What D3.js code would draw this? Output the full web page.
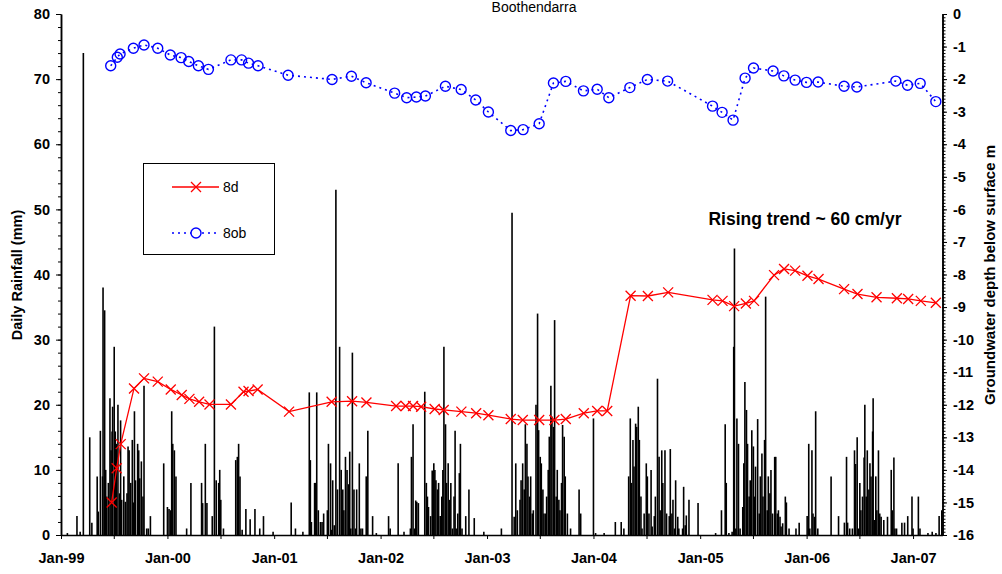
<!DOCTYPE html>
<html>
<head>
<meta charset="utf-8">
<title>Boothendarra</title>
<script src="https://cdn.jsdelivr.net/npm/d3@7"></script>
<style>
  body { margin: 0; background: #fff; }
  svg text { font-family: "Liberation Sans", Arial, sans-serif; fill: #000; }
</style>
</head>
<body>
<div id="chart"></div>
<script>
// daily rainfall: [decimal year, mm]
var rainfall = [
  [1999.06,0.3],[1999.15,2.9],[1999.18,0.5],[1999.21,74],[1999.27,15],[1999.29,1.9],[1999.34,9],[1999.35,3.6],[1999.37,16],[1999.39,9],
  [1999.395,38],[1999.41,34.5],[1999.42,10],[1999.43,5.9],[1999.445,8],[1999.46,21],[1999.47,13],[1999.48,15.9],[1999.485,19.7],[1999.50,28.9],
  [1999.51,15.9],[1999.52,14],[1999.535,20],[1999.55,6.4],[1999.56,17.6],[1999.57,5.4],[1999.59,9],[1999.605,5.1],[1999.62,6.4],[1999.63,13.6],
  [1999.64,13],[1999.655,8],[1999.67,14.6],[1999.68,5],[1999.69,19],[1999.70,8.4],[1999.72,14],[1999.73,13],[1999.74,8.7],[1999.755,11.3],
  [1999.77,5.9],[1999.78,22.9],[1999.805,1],[1999.82,1],[1999.84,2.9],[1999.965,11],
  [2000.00,4.3],[2000.015,4],[2000.03,3.8],[2000.04,19],[2000.05,14],[2000.065,13],[2000.08,9],[2000.18,1],[2000.22,8],[2000.32,8],
  [2000.33,4.9],[2000.355,14],[2000.37,4.9],[2000.42,2.9],[2000.44,32],[2000.457,8.4],[2000.48,8],[2000.49,10],[2000.50,5.4],[2000.525,1],
  [2000.64,11.5],[2000.655,12],[2000.667,14],[2000.68,9],[2000.70,0.8],[2000.735,4],[2000.775,2.4],[2000.82,4],[2000.865,1],[2000.90,2.9],[2000.99,0.5],
  [2001.16,5],[2001.20,1],[2001.27,0.5],[2001.33,21.9],[2001.34,11.5],[2001.35,2],[2001.38,8],[2001.39,8],[2001.40,21.9],[2001.415,3.8],
  [2001.435,2],[2001.45,2],[2001.465,3.3],[2001.50,3.8],[2001.51,14],[2001.53,11],[2001.54,0.8],[2001.55,8.4],[2001.565,1.5],[2001.58,53],
  [2001.595,7],[2001.615,28.9],[2001.63,10],[2001.645,7],[2001.655,3.8],[2001.67,12],[2001.685,10],[2001.70,7.8],[2001.71,12.8],[2001.72,1],
  [2001.735,28],[2001.75,7],[2001.765,1],[2001.775,7],[2001.80,11],[2001.815,1],[2001.83,1],[2001.865,9],[2001.88,16],[2001.925,2.9],[2001.96,0.3],
  [2002.075,2.9],[2002.09,1],[2002.165,11],[2002.22,0.5],[2002.28,1],[2002.29,12],[2002.305,17],[2002.32,1],[2002.33,5.3],[2002.34,5.1],
  [2002.355,4.9],[2002.415,22],[2002.43,8],[2002.44,5.9],[2002.45,4.3],[2002.47,2.9],[2002.485,9.9],[2002.50,11],[2002.51,10],[2002.52,8.4],
  [2002.535,7],[2002.545,8],[2002.56,2.9],[2002.575,5.9],[2002.585,10],[2002.595,28.9],[2002.61,17],[2002.62,8],[2002.635,11],[2002.65,5.4],
  [2002.66,8],[2002.675,1],[2002.69,5.9],[2002.70,16],[2002.71,1],[2002.725,3.3],[2002.74,9.5],[2002.75,14],[2002.765,1],[2002.80,2.9],
  [2002.83,7],[2002.88,2.6],[2002.97,0.5],
  [2003.135,1],[2003.235,49.5],[2003.255,2.8],[2003.27,11],[2003.285,3.8],[2003.31,5.4],[2003.32,8.4],[2003.335,11],[2003.35,7],[2003.36,17],
  [2003.375,14],[2003.385,9],[2003.40,5.9],[2003.41,9],[2003.425,3.3],[2003.435,3.8],[2003.46,20],[2003.475,34],[2003.485,16.1],[2003.50,12],
  [2003.51,11],[2003.525,7],[2003.535,3.3],[2003.55,3.3],[2003.56,5.9],[2003.575,10],[2003.585,15.1],[2003.60,22.9],[2003.61,18.2],[2003.625,16.6],
  [2003.635,33],[2003.65,5.9],[2003.66,10],[2003.675,5.4],[2003.685,3.8],[2003.70,8],[2003.71,16.9],[2003.725,15.1],[2003.735,9],[2003.755,3.3],
  [2003.785,1],[2003.865,7],[2003.88,3.3],
  [2004.00,17.9],[2004.02,0.3],[2004.10,0.3],[2004.205,2],[2004.26,2],[2004.285,1],[2004.33,9],[2004.345,17.9],[2004.355,8],[2004.37,14.6],
  [2004.38,10.5],[2004.395,17.1],[2004.405,16.6],[2004.42,19.7],[2004.43,14.6],[2004.445,5.9],[2004.455,1],[2004.475,3.3],[2004.495,11],[2004.505,9],
  [2004.52,3.3],[2004.54,10],[2004.55,1.3],[2004.57,2.9],[2004.58,5.9],[2004.60,24],[2004.615,12],[2004.625,3.8],[2004.64,13],[2004.65,8],
  [2004.67,13],[2004.685,3.3],[2004.71,2.9],[2004.72,13.2],[2004.735,3.3],[2004.745,5.4],[2004.76,1],[2004.77,8.4],[2004.79,2.8],[2004.80,1],
  [2004.835,1],[2004.845,7.4],[2004.86,1.5],[2004.87,3],[2004.895,5.4],[2004.98,4.9],
  [2005.145,0.3],[2005.20,3.8],[2005.235,17],[2005.245,8],[2005.27,0.3],[2005.30,0.5],[2005.315,28.9],[2005.322,44],[2005.335,1],[2005.345,17.9],
  [2005.36,14],[2005.375,1],[2005.40,4.3],[2005.41,11],[2005.42,23.5],[2005.435,19.2],[2005.445,14],[2005.46,5.9],[2005.47,8.4],[2005.485,16.1],
  [2005.50,13.6],[2005.51,5.9],[2005.52,10.5],[2005.54,17.8],[2005.555,3.3],[2005.565,9],[2005.58,12.5],[2005.59,5.9],[2005.605,14.6],[2005.615,36.6],
  [2005.63,3.8],[2005.64,9],[2005.655,6.4],[2005.665,10],[2005.68,3.3],[2005.70,12],[2005.71,12],[2005.725,3.3],[2005.735,3.8],[2005.75,2.8],
  [2005.76,1.3],[2005.775,1.8],[2005.80,5.9],[2005.81,5],[2005.835,1],[2005.90,1],[2005.93,1.9],
  [2006.005,2.9],[2006.02,14],[2006.03,1],[2006.05,13],[2006.06,3.3],[2006.075,2.8],[2006.085,19],[2006.105,1],[2006.23,9],[2006.30,2.9],
  [2006.355,1.9],[2006.375,12],[2006.385,1.9],[2006.405,1],[2006.43,1],[2006.45,13],[2006.46,10.9],[2006.475,15],[2006.487,1],[2006.50,8],
  [2006.51,3.8],[2006.525,5.9],[2006.54,11.9],[2006.547,20],[2006.56,5.9],[2006.57,13],[2006.585,7],[2006.595,11],[2006.605,9],[2006.62,15.9],
  [2006.625,21],[2006.637,2.3],[2006.65,9],[2006.66,3.8],[2006.675,13],[2006.687,3.3],[2006.70,2.8],[2006.725,2.3],[2006.76,2.8],[2006.795,10],
  [2006.805,3.8],[2006.82,11.9],[2006.83,1],[2006.845,1],[2006.895,1.9],[2006.92,1.9],[2006.95,2.9],[2006.99,5.9],
  [2007.00,1],[2007.05,5.9],[2007.065,1],[2007.14,0.3],[2007.18,0.5],[2007.215,0.3],[2007.245,2.9],[2007.27,3.8]
];

// bore 8d: decimal year / depth below surface (m)
var d8Year = [1999.476,1999.523,1999.561,1999.686,1999.780,1999.909,2000.031,2000.134,2000.206,2000.297,
  2000.394,2000.595,2000.713,2000.760,2000.845,2001.140,2001.540,2001.732,2001.867,2002.146,
  2002.236,2002.305,2002.381,2002.508,2002.593,2002.759,2002.898,2003.013,2003.223,2003.336,
  2003.490,2003.633,2003.740,2003.909,2004.035,2004.129,2004.348,2004.510,2004.700,2005.116,
  2005.210,2005.319,2005.429,2005.506,2005.694,2005.788,2005.892,2006.008,2006.112,2006.352,
  2006.478,2006.657,2006.848,2006.954,2007.073,2007.214];
var d8Depth = [-15.00,-13.95,-13.21,-11.50,-11.19,-11.29,-11.53,-11.70,-11.82,-11.91,
  -11.99,-11.99,-11.60,-11.58,-11.53,-12.21,-11.91,-11.89,-11.93,-12.04,
  -12.04,-12.04,-12.06,-12.13,-12.16,-12.21,-12.26,-12.32,-12.44,-12.47,
  -12.47,-12.47,-12.44,-12.26,-12.19,-12.19,-8.65,-8.66,-8.55,-8.78,
  -8.81,-8.97,-8.89,-8.81,-8.02,-7.83,-7.88,-8.04,-8.14,-8.45,
  -8.60,-8.70,-8.73,-8.75,-8.81,-8.87];

// bore 8ob
var ob8Year = [1999.467,1999.529,1999.555,1999.680,1999.780,1999.909,2000.027,2000.128,2000.200,2000.290,
  2000.384,2000.595,2000.695,2000.760,2000.849,2001.131,2001.544,2001.726,2001.864,2002.132,
  2002.245,2002.336,2002.421,2002.609,2002.757,2002.894,2003.013,2003.223,2003.339,2003.490,
  2003.624,2003.740,2003.906,2004.035,2004.144,2004.341,2004.505,2004.695,2005.116,2005.206,
  2005.309,2005.422,2005.501,2005.685,2005.786,2005.892,2005.999,2006.108,2006.352,2006.472,
  2006.838,2006.948,2007.067,2007.214];
var ob8Depth = [-1.59,-1.33,-1.23,-1.05,-0.95,-1.05,-1.26,-1.34,-1.46,-1.59,
  -1.70,-1.41,-1.41,-1.51,-1.59,-1.88,-2.01,-1.91,-2.11,-2.43,
  -2.57,-2.55,-2.52,-2.22,-2.32,-2.64,-3.01,-3.58,-3.55,-3.37,
  -2.12,-2.07,-2.36,-2.31,-2.57,-2.26,-2.01,-2.06,-2.83,-3.02,
  -3.26,-1.97,-1.66,-1.75,-1.90,-2.03,-2.10,-2.09,-2.22,-2.24,
  -2.06,-2.19,-2.13,-2.69];

var rainTicks = [0,10,20,30,40,50,60,70,80];
var depthTicks = [0,-1,-2,-3,-4,-5,-6,-7,-8,-9,-10,-11,-12,-13,-14,-15,-16];
var xTickLabels = ["Jan-99","Jan-00","Jan-01","Jan-02","Jan-03","Jan-04","Jan-05","Jan-06","Jan-07"];

function toDate(y) {
  var yr = Math.floor(y);
  var a = new Date(yr, 0, 1), b = new Date(yr + 1, 0, 1);
  return new Date(+a + (y - yr) * (b - a));
}

var width = 1002, height = 574;
var plot = {left: 61, right: 942.5, top: 14, bottom: 535};

var svg = d3.select("#chart").append("svg")
  .attr("width", width).attr("height", height);

var x = d3.scaleTime()
  .domain([new Date(1999, 0, 1), new Date(2007, 3, 12)])
  .range([plot.left, plot.right]);
var yRain = d3.scaleLinear().domain([0, 80]).range([plot.bottom, plot.top]);
var yDepth = d3.scaleLinear().domain([-16, 0]).range([plot.bottom, plot.top]);

// rainfall bars
svg.append("g").selectAll("line")
  .data(rainfall)
  .enter().append("line")
    .attr("x1", function(d) { return x(toDate(d[0])); })
    .attr("x2", function(d) { return x(toDate(d[0])); })
    .attr("y1", yRain(0))
    .attr("y2", function(d) { return yRain(d[1]); })
    .attr("stroke", "#000")
    .attr("stroke-width", 1.6);

// axes
var tickFont = "14.5px";
function styleAxis(g) {
  g.selectAll("path, line").attr("stroke", "#000");
  g.select(".domain").attr("stroke-width", 1.5);
  g.selectAll("text").attr("font-size", tickFont).attr("font-weight", "bold")
    .attr("font-family", "Liberation Sans, Arial, sans-serif");
}

// left minor + major
svg.append("g").attr("transform", "translate(" + plot.left + ",0)")
  .call(d3.axisLeft(yRain).tickValues(d3.range(0, 81, 2)).tickSize(3).tickSizeOuter(0).tickFormat(""))
  .call(styleAxis);
svg.append("g").attr("transform", "translate(" + plot.left + ",0)")
  .call(d3.axisLeft(yRain).tickValues(rainTicks).tickSize(5).tickSizeOuter(0).tickPadding(6))
  .call(styleAxis);

// right minor + major
svg.append("g").attr("transform", "translate(" + plot.right + ",0)")
  .call(d3.axisRight(yDepth).tickValues(d3.range(-160, 1, 1).map(function(v) { return v / 10; }))
    .tickSize(3).tickSizeOuter(0).tickFormat(""))
  .call(styleAxis);
svg.append("g").attr("transform", "translate(" + plot.right + ",0)")
  .call(d3.axisRight(yDepth).tickValues(depthTicks).tickSize(4.5).tickSizeOuter(0).tickPadding(6)
    .tickFormat(function(d) { return String(d); }))
  .call(styleAxis);

// bottom axis: Jan labelled, Jul unlabelled
var parseTick = d3.timeParse("%b-%y");
var janDates = xTickLabels.map(parseTick);
var halfDates = janDates.concat(janDates.map(function(d) { return new Date(d.getFullYear(), 6, 1); }))
  .filter(function(d) { return d <= x.domain()[1]; });
svg.append("g").attr("transform", "translate(0," + plot.bottom + ")")
  .call(d3.axisBottom(x).tickValues(halfDates).tickSize(4).tickSizeOuter(0).tickPadding(14)
    .tickFormat(function(d) {
      var i = janDates.findIndex(function(j) { return +j === +d; });
      return i >= 0 ? xTickLabels[i] : "";
    }))
  .call(styleAxis);

// 8d line
var lineD = d3.line()
  .x(function(d, i) { return x(toDate(d8Year[i])); })
  .y(function(d) { return yDepth(d); });
svg.append("path")
  .datum(d8Depth)
  .attr("fill", "none")
  .attr("stroke", "#ff0000")
  .attr("stroke-width", 1.3)
  .attr("d", lineD);

function crossPath(cx, cy, s) {
  return "M" + (cx - s) + "," + (cy - s) + "L" + (cx + s) + "," + (cy + s) +
         "M" + (cx - s) + "," + (cy + s) + "L" + (cx + s) + "," + (cy - s);
}
svg.append("g").selectAll("path")
  .data(d8Depth)
  .enter().append("path")
    .attr("d", function(d, i) { return crossPath(x(toDate(d8Year[i])), yDepth(d), 5); })
    .attr("stroke", "#ff0000")
    .attr("stroke-width", 1.3)
    .attr("fill", "none");

// 8ob line
var lineOb = d3.line()
  .x(function(d, i) { return x(toDate(ob8Year[i])); })
  .y(function(d) { return yDepth(d); });
svg.append("path")
  .datum(ob8Depth)
  .attr("fill", "none")
  .attr("stroke", "#0000ff")
  .attr("stroke-width", 1.6)
  .attr("stroke-dasharray", "2,4")
  .attr("d", lineOb);

svg.append("g").selectAll("circle")
  .data(ob8Depth)
  .enter().append("circle")
    .attr("cx", function(d, i) { return x(toDate(ob8Year[i])); })
    .attr("cy", function(d) { return yDepth(d); })
    .attr("r", 5)
    .attr("fill", "none")
    .attr("stroke", "#0000ff")
    .attr("stroke-width", 1.4);

// titles
svg.append("text")
  .attr("x", 534).attr("y", 12)
  .attr("text-anchor", "middle")
  .attr("font-size", "14px")
  .text("Boothendarra");

svg.append("text")
  .attr("transform", "translate(22,275) rotate(-90)")
  .attr("text-anchor", "middle")
  .attr("font-size", "14.5px").attr("font-weight", "bold")
  .text("Daily Rainfall (mm)");

svg.append("text")
  .attr("transform", "translate(995,275) rotate(-90)")
  .attr("text-anchor", "middle")
  .attr("font-size", "15px").attr("font-weight", "bold")
  .text("Groundwater depth below surface m");

svg.append("text")
  .attr("x", 805).attr("y", 225)
  .attr("text-anchor", "middle")
  .attr("font-size", "17.5px").attr("font-weight", "bold")
  .text("Rising trend ~ 60 cm/yr");

// legend
var legend = svg.append("g");
legend.append("rect")
  .attr("x", 143.5).attr("y", 163.5).attr("width", 131).attr("height", 91)
  .attr("fill", "#fff").attr("stroke", "#000").attr("stroke-width", 1);
legend.append("line")
  .attr("x1", 172).attr("x2", 219).attr("y1", 187).attr("y2", 187)
  .attr("stroke", "#ff0000").attr("stroke-width", 1.3);
legend.append("path")
  .attr("d", crossPath(196, 187, 5))
  .attr("stroke", "#ff0000").attr("stroke-width", 1.3);
legend.append("text")
  .attr("x", 223).attr("y", 192)
  .attr("font-size", "14px")
  .text("8d");
legend.append("line")
  .attr("x1", 172).attr("x2", 219).attr("y1", 233).attr("y2", 233)
  .attr("stroke", "#0000ff").attr("stroke-width", 1.6).attr("stroke-dasharray", "2,4");
legend.append("circle")
  .attr("cx", 196).attr("cy", 233).attr("r", 5)
  .attr("fill", "#fff").attr("stroke", "#0000ff").attr("stroke-width", 1.4);
legend.append("text")
  .attr("x", 223).attr("y", 238)
  .attr("font-size", "14px")
  .text("8ob");
</script>
</body>
</html>
